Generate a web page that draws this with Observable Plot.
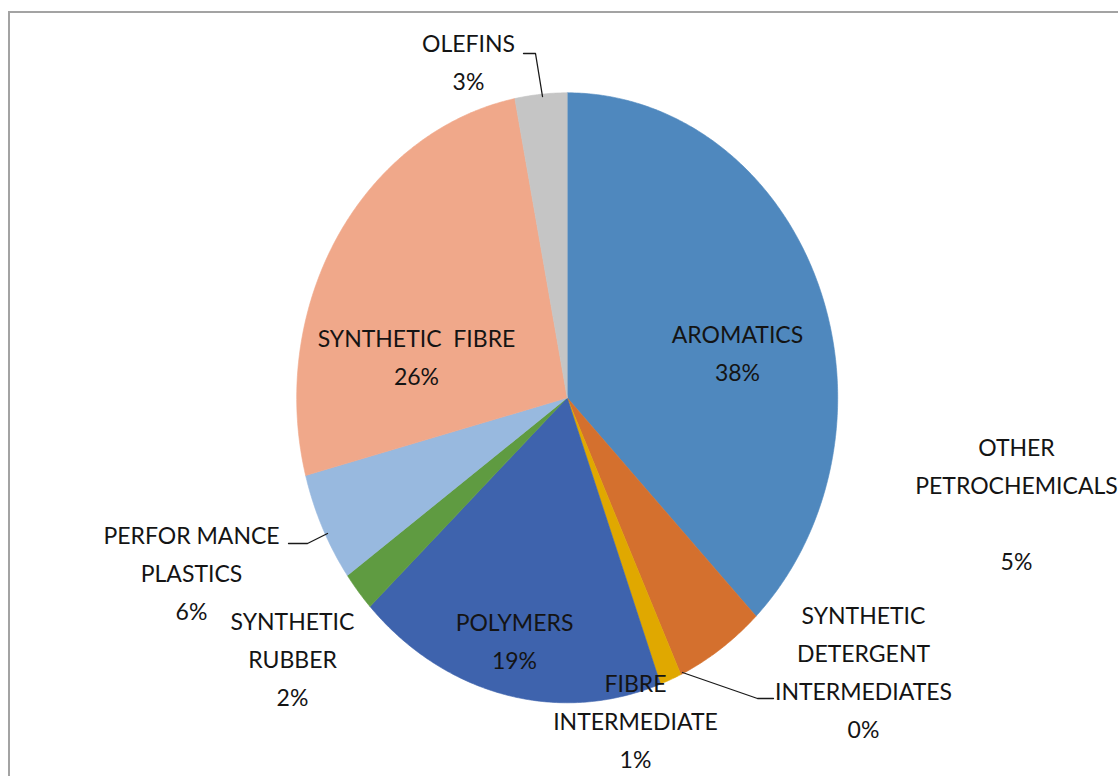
<!DOCTYPE html>
<html>
<head>
<meta charset="utf-8">
<script src="https://cdn.jsdelivr.net/npm/d3@7"></script>
<script src="https://cdn.jsdelivr.net/npm/@observablehq/plot@0.6"></script>
<style>
  html, body { margin: 0; padding: 0; background: #fff; overflow: hidden; width: 1118px; height: 776px; }
  #chart { position: absolute; left: 0; top: 0; }
  #frame { position: absolute; left: 8px; top: 11px; width: 1300px; height: 1000px; border: 2px solid #a3a3a3; box-sizing: border-box; pointer-events: none; }
</style>
</head>
<body>
<div id="chart"></div>
<div id="frame"></div>
<script>
// ---- data (clockwise from 12 o'clock) ----
const categories = ["AROMATICS", "OTHER PETROCHEMICALS", "SYNTHETIC DETERGENT INTERMEDIATES", "FIBRE INTERMEDIATE", "POLYMERS", "SYNTHETIC RUBBER", "PERFORMANCE PLASTICS", "SYNTHETIC FIBRE", "OLEFINS"];
const values = [37.7, 5.4, 0, 1.3, 18.6, 2.1, 5.8, 26.0, 3.1];
const percentLabels = ["38%", "5%", "0%", "1%", "19%", "2%", "6%", "26%", "3%"];
const labelNames = ["AROMATICS", "OTHER\nPETROCHEMICALS\n", "SYNTHETIC\nDETERGENT\nINTERMEDIATES", "FIBRE\nINTERMEDIATE", "POLYMERS", "SYNTHETIC\nRUBBER", "PERFOR MANCE\nPLASTICS", "SYNTHETIC  FIBRE", "OLEFINS"];
const colors = ["#4f88be", "#d4702e", "#a5a5a5", "#e0a800", "#3e63ad", "#5f9b41", "#98b9df", "#f0a88a", "#c5c5c5"];

// ---- layout ----
const W = 1118, H = 776;
const cx = 566.7, cy = 397.3, rx = 270.5, ry = 305;
const toX = px => (px - cx) / rx;
const toY = py => (cy - py) / ry;
// label block centers (pixels)
const labelPos = [[737, 349], [1016, 500], [863, 668], [635, 717], [514, 637], [292, 655], [191, 569], [416, 353], [468, 58]];
const leaderLines = [
  [[523, 53], [535, 53], [542, 96]],
  [[288, 543], [307, 543], [327, 533]],
  [[682, 672], [757, 698], [773, 698]]
];

// ---- geometry from data ----
const arcs = d3.pie().sort(null).value(d => d)(values);
const slices = arcs.map((a, i) => {
  const pts = [{x: 0, y: 0}];
  const n = Math.max(2, Math.ceil((a.endAngle - a.startAngle) / (Math.PI / 360)));
  for (let k = 0; k <= n; k++) {
    const t = a.startAngle + (a.endAngle - a.startAngle) * k / n;
    pts.push({x: Math.sin(t), y: Math.cos(t)});
  }
  pts.push({x: 0, y: 0});
  return pts;
});

const labels = categories.map((c, i) => ({
  text: labelNames[i] + "\n" + percentLabels[i],
  x: toX(labelPos[i][0]),
  y: toY(labelPos[i][1])
}));

const leaders = leaderLines.flatMap((l, j) => l.map(p => ({x: toX(p[0]), y: toY(p[1]), g: j})));

const marks = [];
slices.forEach((pts, i) => {
  if (values[i] > 0) marks.push(Plot.line(pts, {x: "x", y: "y", fill: colors[i], stroke: colors[i], strokeWidth: 0.6}));
});
marks.push(Plot.line(leaders, {x: "x", y: "y", z: "g", stroke: "#1a1a1a", strokeWidth: 1.3}));
marks.push(Plot.text(labels, {x: "x", y: "y", text: "text", fontSize: 23, fontFamily: "Lato, 'Open Sans', sans-serif", fill: "#141414", lineHeight: 1.65, lineAnchor: "middle", textAnchor: "middle"}));

const chart = Plot.plot({
  width: W,
  height: H,
  marginLeft: cx - rx,
  marginRight: W - (cx + rx),
  marginTop: cy - ry,
  marginBottom: H - (cy + ry),
  x: {domain: [-1, 1], axis: null},
  y: {domain: [-1, 1], axis: null},
  style: {background: "transparent", overflow: "visible"},
  marks
});
document.getElementById("chart").appendChild(chart);
</script>
</body>
</html>
